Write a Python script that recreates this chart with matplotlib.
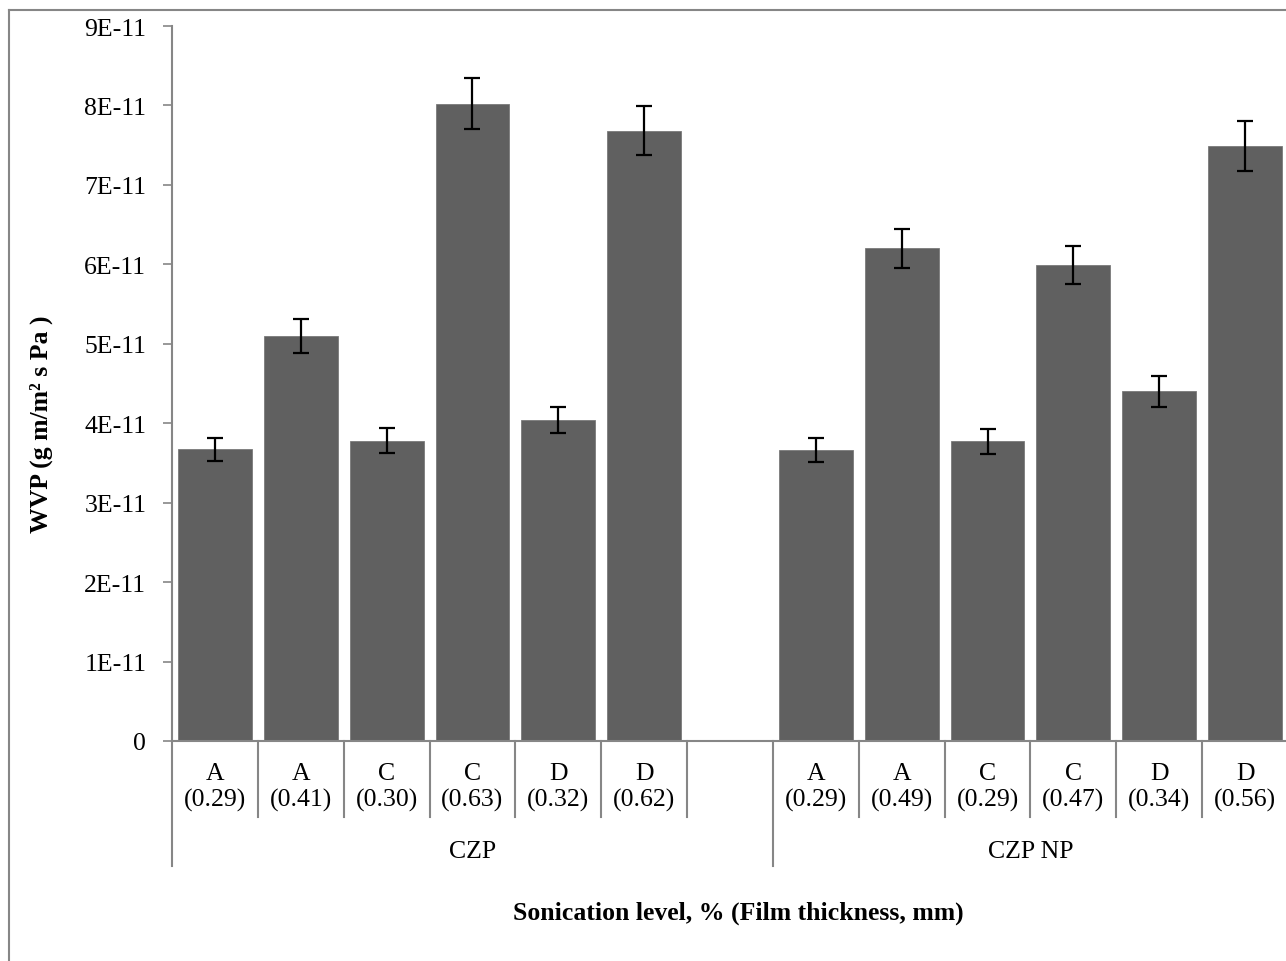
import matplotlib
matplotlib.use("Agg")
import matplotlib.pyplot as plt
import matplotlib.transforms as mtransforms
from matplotlib.lines import Line2D
from matplotlib.ticker import FuncFormatter

plt.rcParams['font.family'] = ['Liberation Serif', 'DejaVu Serif']

# data (empty slot between the two groups)
levels = ['A', 'A', 'C', 'C', 'D', 'D', '', 'A', 'A', 'C', 'C', 'D', 'D']
thickness = ['(0.29)', '(0.41)', '(0.30)', '(0.63)', '(0.32)', '(0.62)', '',
             '(0.29)', '(0.49)', '(0.29)', '(0.47)', '(0.34)', '(0.56)']
wvp = [3.67e-11, 5.10e-11, 3.78e-11, 8.02e-11, 4.04e-11, 7.68e-11, None,
       3.66e-11, 6.20e-11, 3.77e-11, 5.99e-11, 4.40e-11, 7.49e-11]
err = [0.15e-11, 0.21e-11, 0.16e-11, 0.32e-11, 0.16e-11, 0.31e-11, None,
       0.15e-11, 0.25e-11, 0.16e-11, 0.24e-11, 0.19e-11, 0.31e-11]
groups = ['CZP', 'CZP NP']
group_spans = [(-0.5, 6.5), (6.5, 12.5)]

W, H = 1286, 962
fig = plt.figure(figsize=(W / 100, H / 100), dpi=100)

# axes placed in pixel terms (right edge runs slightly past the image like the original)
x0, x1, y0, y1 = 172, 1288, 27, 742
ax = fig.add_axes([x0 / W, 1 - y1 / H, (x1 - x0) / W, (y1 - y0) / H])

grey = '#868686'
idx = [i for i, v in enumerate(wvp) if v is not None]
ax.bar(idx, [wvp[i] for i in idx], width=0.86, color='#606060', edgecolor='#7a7a7a', linewidth=0.6)
ax.errorbar(idx, [wvp[i] for i in idx], yerr=[err[i] for i in idx], fmt='none',
            ecolor='black', elinewidth=1.6, capsize=6, capthick=1.6)

ax.set_xlim(-0.5, 12.5)
ax.set_ylim(0, 9e-11)
ax.set_yticks([i * 1e-11 for i in range(10)])
ax.yaxis.set_major_formatter(FuncFormatter(lambda v, p: '0' if v == 0 else f'{round(v / 1e-11)}E-11'))
ax.tick_params(axis='y', direction='out', length=6.5, width=1.2, color=grey, pad=12, labelsize=18.5)
ax.set_xticks([])

for s in ['top', 'right']:
    ax.spines[s].set_visible(False)
for s in ['left', 'bottom']:
    ax.spines[s].set_color(grey)
    ax.spines[s].set_linewidth(1.5)

# multi-level category axis
trans = mtransforms.blended_transform_factory(ax.transData, ax.transAxes)
for i in range(13):
    if levels[i]:
        ax.text(i, -0.064, levels[i] + '\n' + thickness[i], transform=trans,
                ha='center', va='center', fontsize=18.5, linespacing=1.2)
inner = [b + 0.5 for b in range(12) if b + 0.5 != 6.5]
for b in inner:
    ax.add_line(Line2D([b, b], [0, -0.106], transform=trans, color=grey, lw=1.5, clip_on=False))
for b in [-0.5, 6.5, 12.5]:
    ax.add_line(Line2D([b, b], [0, -0.175], transform=trans, color=grey, lw=1.5, clip_on=False))
for g, (a, b) in zip(groups, group_spans):
    ax.text((a + b) / 2, -0.154, g, transform=trans, ha='center', va='center', fontsize=18.5)

fig.text(41 / W, 1 - 424 / H, 'WVP (g m/m² s Pa )', rotation=90, ha='center', va='center',
         fontsize=18.5, fontweight='bold')
fig.text(738 / W, 1 - 913 / H, 'Sonication level, % (Film thickness, mm)', ha='center', va='center',
         fontsize=18.5, fontweight='bold')

# chart area border (top and left visible)
fig.add_artist(Line2D([9 / W, 9 / W], [0, 1 - 11 / H], color=grey, lw=1.5))
fig.add_artist(Line2D([9 / W, 1], [1 - 11 / H, 1 - 11 / H], color=grey, lw=1.5))

fig.savefig('out.png', dpi=100)
